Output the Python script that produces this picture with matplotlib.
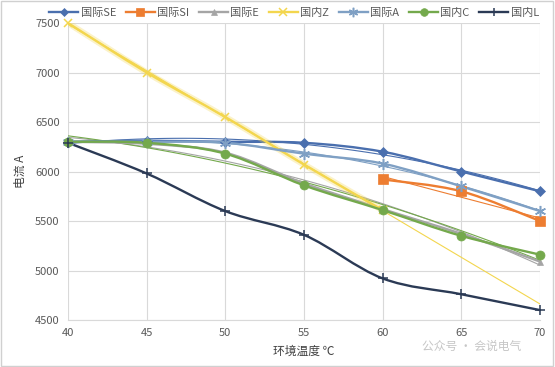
"""Current vs ambient temperature for several products (Excel-style smoothed lines)."""

import numpy as np
import matplotlib
matplotlib.use("Agg")
import matplotlib.pyplot as plt
from matplotlib.path import Path
from matplotlib.patches import PathPatch, Rectangle
from matplotlib.lines import Line2D

plt.rcParams["font.family"] = ["Noto Sans CJK SC", "DejaVu Sans"]

temps = [40, 45, 50, 55, 60, 65, 70]
nan = np.nan

series_names = ["国际SE", "国际SI", "国际E", "国内Z", "国际A", "国内C", "国内L"]
se_vals = [6300, 6310, 6300, 6290, 6200, 6000, 5800]
si_vals = [nan, nan, nan, nan, 5920, 5800, 5500]
e_vals = [6300, 6280, 6190, 5880, 5620, 5370, 5090]
z_vals = [7500, 7000, 6550, 6070, 5610, nan, nan]
a_vals = [6300, 6300, 6290, 6180, 6080, 5850, 5600]
c_vals = [6300, 6290, 6180, 5860, 5610, 5350, 5160]
l_vals = [6290, 5980, 5600, 5360, 4920, 4760, 4600]

all_vals = [se_vals, si_vals, e_vals, z_vals, a_vals, c_vals, l_vals]
colors = ["#4a6fae", "#ed7d31", "#a5a5a5", "#f3d64e", "#7fa0c4", "#74a94c", "#2b3a55"]
markers = ["D", "s", "^", "x", (6, 2, 0), "o", "+"]
msizes = [5, 6.5, 5, 6, 8, 6.5, 7]
# trendline order per series (0 = no trendline)
trend_deg = [2, 1, 2, 1, 2, 2, 0]


def smooth_path(xs, ys):
    # Catmull-Rom style bezier, like Excel "smoothed line"
    pts = np.column_stack([xs, ys])
    verts = [pts[0]]
    codes = [Path.MOVETO]
    n = len(pts)
    for i in range(n - 1):
        p0 = pts[i - 1] if i > 0 else pts[i]
        p1 = pts[i]
        p2 = pts[i + 1]
        p3 = pts[i + 2] if i + 2 < n else pts[i + 1]
        c1 = p1 + (p2 - p0) / 6.0
        c2 = p2 - (p3 - p1) / 6.0
        verts += [c1, c2, p2]
        codes += [Path.CURVE4] * 3
    return Path(verts, codes)


fig = plt.figure(figsize=(5.55, 3.67), dpi=100)
fig.patches.append(Rectangle((0.002, 0.003), 0.995, 0.993, transform=fig.transFigure,
                             fill=False, edgecolor="#d0d0d0", linewidth=1))
ax = fig.add_axes([68 / 555, 47 / 367, 472 / 555, 297 / 367])

x = np.array(temps, dtype=float)
handles = []
for name, vals, col, mk, ms, deg in zip(series_names, all_vals, colors, markers, msizes, trend_deg):
    y = np.array(vals, dtype=float)
    ok = ~np.isnan(y)
    xs, ys = x[ok], y[ok]

    # trendline
    if deg > 0:
        coef = np.polyfit(xs, ys, deg)
        if deg == 1 and ok.sum() >= 5:
            tx = np.linspace(40, 70, 50)
        else:
            tx = np.linspace(xs.min(), 70, 50)
        ax.plot(tx, np.polyval(coef, tx), color=col, linewidth=0.8, zorder=2)

    if name == "国内Z":
        ax.add_patch(PathPatch(smooth_path(xs, ys), facecolor="none", edgecolor=col,
                               linewidth=4.5, alpha=0.3, zorder=3))
    ax.add_patch(PathPatch(smooth_path(xs, ys), facecolor="none", edgecolor=col,
                           linewidth=1.7, zorder=3, capstyle="round"))
    mew = 1.1 if mk in ("x", "+") or isinstance(mk, tuple) else 0.5
    ax.plot(xs, ys, linestyle="none", marker=mk, markersize=ms, color=col,
            markeredgewidth=mew, zorder=4, clip_on=False)
    handles.append(Line2D([], [], color=col, linewidth=1.7, marker=mk, markersize=ms * 0.85,
                          markeredgewidth=mew, label=name))

ax.set_xlim(40, 70)
ax.set_ylim(4500, 7500)
ax.set_xticks(temps)
ax.set_yticks(range(4500, 7501, 500))
ax.grid(True, color="#d9d9d9", linewidth=0.8)
ax.set_axisbelow(True)
for side in ("top", "right", "left"):
    ax.spines[side].set_visible(False)
ax.spines["bottom"].set_color("#d9d9d9")
ax.tick_params(length=0, labelsize=8, labelcolor="#595959", pad=6)

ax.set_xlabel("环境温度 ℃", fontsize=8.5, color="#404040", labelpad=5)
ax.set_ylabel("电流 A", fontsize=8.5, color="#404040", labelpad=6)

fig.legend(handles=handles, loc="upper center", bbox_to_anchor=(0.53, 1.005), ncol=7,
           frameon=False, fontsize=8, handlelength=2.6, handletextpad=0.2,
           columnspacing=0.9, labelcolor="#595959")

fig.text(0.85, 0.055, "公众号 · 会说电气", fontsize=8.5, color="#b8b8b8",
         ha="center", va="center", alpha=0.8)

fig.savefig("out.png", dpi=100)
